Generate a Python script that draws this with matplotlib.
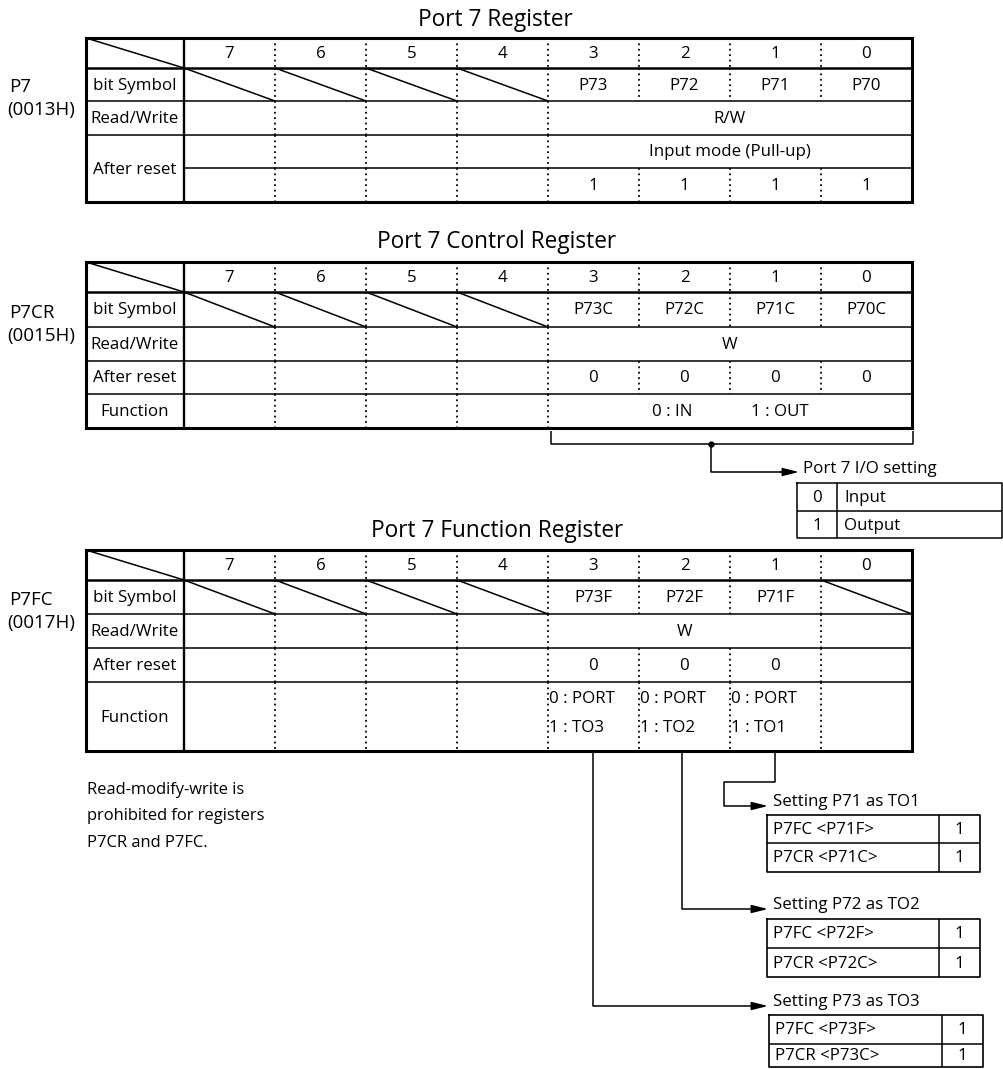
"""Port 7 register map (P7, P7CR, P7FC) redrawn with matplotlib."""

import matplotlib

matplotlib.use("Agg")
import matplotlib.pyplot as plt  # noqa: E402

plt.rcParams.update({
    "font.family": ["Open Sans", "DejaVu Sans"],
    "font.size": 12.2,
})

# ---- register contents -------------------------------------------------
bits = ["7", "6", "5", "4", "3", "2", "1", "0"]

p7_name, p7_addr = "P7", "(0013H)"
p7_symbols = ["P73", "P72", "P71", "P70"]          # bits 3..0
p7_rw = "R/W"
p7_reset_mode = "Input mode (Pull-up)"
p7_reset = ["1", "1", "1", "1"]

p7cr_name, p7cr_addr = "P7CR", "(0015H)"
p7cr_symbols = ["P73C", "P72C", "P71C", "P70C"]
p7cr_rw = "W"
p7cr_reset = ["0", "0", "0", "0"]
p7cr_func = ["0 : IN", "1 : OUT"]

p7fc_name, p7fc_addr = "P7FC", "(0017H)"
p7fc_symbols = ["P73F", "P72F", "P71F"]             # bits 3..1
p7fc_rw = "W"
p7fc_reset = ["0", "0", "0"]
p7fc_func = [("0 : PORT", "1 : TO3"), ("0 : PORT", "1 : TO2"), ("0 : PORT", "1 : TO1")]

io_codes = ["0", "1"]
io_meaning = ["Input", "Output"]

settings = [
    ("Setting P71 as TO1", ["P7FC <P71F>", "P7CR <P71C>"], ["1", "1"]),
    ("Setting P72 as TO2", ["P7FC <P72F>", "P7CR <P72C>"], ["1", "1"]),
    ("Setting P73 as TO3", ["P7FC <P73F>", "P7CR <P73C>"], ["1", "1"]),
]

note = ["Read-modify-write is", "prohibited for registers", "P7CR and P7FC."]

# ---- canvas in pixel units ---------------------------------------------
fig = plt.figure(figsize=(10.04, 10.69), dpi=100)
ax = fig.add_axes([0, 0, 1, 1])
ax.set_xlim(0, 1004)
ax.set_ylim(1069, 0)
ax.axis("off")

LX0, LX1 = 86, 184
COLX = [184 + 91 * i for i in range(9)]
XR = COLX[-1]
K = "black"
DOT = (0, (1, 2))


def line(xs, ys, lw=1.1, ls="-"):
    ax.plot(xs, ys, color=K, lw=lw, ls=ls, solid_capstyle="butt")


def row(y0, y1, cells):
    """cells: list of (first_col, last_col, text); '/' draws a diagonal."""
    for k, (c0, c1, txt) in enumerate(cells):
        xa, xb = COLX[c0], COLX[c1 + 1]
        if k > 0:
            line([xa, xa], [y0, y1], lw=1.3, ls=DOT)
        if txt == "/":
            line([xa, xb], [y0, y1], lw=1.1)
        elif txt:
            ax.text((xa + xb) / 2, (y0 + y1) / 2 + 1, txt, ha="center", va="center")


def label(y0, y1, txt):
    ax.text((LX0 + LX1) / 2, (y0 + y1) / 2 + 1, txt, ha="center", va="center")


def header(top, bot, name, addr, sym_row):
    line([LX0, LX1], [top, bot], lw=1.1)
    row(top, bot, [(i, i, b) for i, b in enumerate(bits)])
    line([LX0, XR], [bot, bot], lw=1.8)
    yc = (sym_row[0] + sym_row[1]) / 2
    ax.text(9, yc + 3, name, ha="left", va="center", fontsize=13.5)
    ax.text(7, yc + 26, addr, ha="left", va="center", fontsize=13.5)


def frame(top, bot):
    ax.plot([LX0, XR, XR, LX0, LX0], [top, top, bot, bot, top], color=K,
            lw=2.2, solid_joinstyle="miter")
    line([LX1, LX1], [top, bot], lw=1.7)


empty4 = [(i, i, "") for i in range(4)]
diag4 = [(i, i, "/") for i in range(4)]

# ---- Port 7 Register ---------------------------------------------------
ax.text(495, 20, "Port 7 Register", ha="center", va="center", fontsize=16.3)
y = [38, 68, 101, 135, 168, 202]
header(y[0], y[1], p7_name, p7_addr, (y[1], y[2]))
label(y[1], y[2], "bit Symbol")
row(y[1], y[2], diag4 + [(4 + i, 4 + i, s) for i, s in enumerate(p7_symbols)])
line([LX0, XR], [y[2], y[2]])
label(y[2], y[3], "Read/Write")
row(y[2], y[3], empty4 + [(4, 7, p7_rw)])
line([LX0, XR], [y[3], y[3]])
label(y[3], y[5], "After reset")
row(y[3], y[4], empty4 + [(4, 7, p7_reset_mode)])
line([LX1, XR], [y[4], y[4]])
row(y[4], y[5], empty4 + [(4 + i, 4 + i, s) for i, s in enumerate(p7_reset)])
frame(y[0], y[5])

# ---- Port 7 Control Register -------------------------------------------
ax.text(497, 242, "Port 7 Control Register", ha="center", va="center", fontsize=16.3)
y = [262, 292, 327, 361, 394, 428]
header(y[0], y[1], p7cr_name, p7cr_addr, (y[1], y[2]))
label(y[1], y[2], "bit Symbol")
row(y[1], y[2], diag4 + [(4 + i, 4 + i, s) for i, s in enumerate(p7cr_symbols)])
line([LX0, XR], [y[2], y[2]])
label(y[2], y[3], "Read/Write")
row(y[2], y[3], empty4 + [(4, 7, p7cr_rw)])
line([LX0, XR], [y[3], y[3]])
label(y[3], y[4], "After reset")
row(y[3], y[4], empty4 + [(4 + i, 4 + i, s) for i, s in enumerate(p7cr_reset)])
line([LX0, XR], [y[4], y[4]])
label(y[4], y[5], "Function")
row(y[4], y[5], empty4 + [(4, 7, "")])
ax.text(672, (y[4] + y[5]) / 2 + 1, p7cr_func[0], ha="center", va="center")
ax.text(780, (y[4] + y[5]) / 2 + 1, p7cr_func[1], ha="center", va="center")
frame(y[0], y[5])

# bracket + I/O setting table
line([551, 551, 913, 913], [431, 444, 444, 431])
ax.plot([711], [444], "o", color=K, ms=3.5)
line([711, 711, 790], [444, 472, 472])
ARW = dict(arrowstyle="-|>,head_length=0.8,head_width=0.2", color=K, lw=1.1,
           shrinkA=0, shrinkB=0)
ax.annotate("", xy=(799, 472), xytext=(780, 472), arrowprops=ARW)
ax.text(803, 469, "Port 7 I/O setting", ha="left", va="center")
ty = [483, 511, 538]
ax.plot([797, 1002, 1002, 797, 797], [ty[0], ty[0], ty[2], ty[2], ty[0]], color=K, lw=1.1)
line([797, 1002], [ty[1], ty[1]])
line([837, 837], [ty[0], ty[2]])
for i in range(2):
    yc = (ty[i] + ty[i + 1]) / 2 + 1
    ax.text(817, yc, io_codes[i], ha="center", va="center")
    ax.text(844, yc, io_meaning[i], ha="left", va="center")

# ---- Port 7 Function Register ------------------------------------------
ax.text(497, 531, "Port 7 Function Register", ha="center", va="center", fontsize=16.3)
y = [550, 580, 614, 648, 682, 751]
header(y[0], y[1], p7fc_name, p7fc_addr, (y[1], y[2]))
label(y[1], y[2], "bit Symbol")
row(y[1], y[2], diag4 + [(4 + i, 4 + i, s) for i, s in enumerate(p7fc_symbols)] + [(7, 7, "/")])
line([LX0, XR], [y[2], y[2]])
label(y[2], y[3], "Read/Write")
row(y[2], y[3], empty4 + [(4, 6, p7fc_rw), (7, 7, "")])
line([LX0, XR], [y[3], y[3]])
label(y[3], y[4], "After reset")
row(y[3], y[4], empty4 + [(4 + i, 4 + i, s) for i, s in enumerate(p7fc_reset)] + [(7, 7, "")])
line([LX0, XR], [y[4], y[4]])
label(y[4], y[5], "Function")
row(y[4], y[5], [(i, i, "") for i in range(8)])
for i, (a, b) in enumerate(p7fc_func):
    ax.text(COLX[4 + i] + 1, 699, a, ha="left", va="center")
    ax.text(COLX[4 + i] + 1, 728, b, ha="left", va="center")
frame(y[0], y[5])

for i, txt in enumerate(note):
    ax.text(87, 790 + 26.5 * i, txt, ha="left", va="center", fontsize=11.9)

# ---- routing to the setting tables -------------------------------------
routes = [
    ([775, 775, 724, 724, 758], [752, 782, 782, 806, 806]),
    ([682, 682, 758], [752, 909, 909]),
    ([593, 593, 758], [752, 1006, 1006]),
]
boxes = [(767, 939, 980, 815, 843, 872),
         (767, 939, 980, 919, 948, 977),
         (769, 942, 983, 1015, 1044, 1067)]
for (title, names, vals), (xs, ys), (bx0, bxm, bx1, by0, bym, by1) in zip(settings, routes, boxes):
    line(xs, ys)
    ax.annotate("", xy=(768, ys[-1]), xytext=(xs[-1] - 1, ys[-1]), arrowprops=ARW)
    ax.text(773, ys[-1] - 4, title, ha="left", va="center")
    ax.plot([bx0, bx1, bx1, bx0, bx0], [by0, by0, by1, by1, by0], color=K, lw=1.2)
    line([bx0, bx1], [bym, bym])
    line([bxm, bxm], [by0, by1])
    for j in range(2):
        yc = (by0 + bym) / 2 + 1 if j == 0 else (bym + by1) / 2 + 1
        ax.text(bx0 + 6, yc, names[j], ha="left", va="center")
        ax.text((bxm + bx1) / 2, yc, vals[j], ha="center", va="center")

fig.savefig("out.png", dpi=100)
